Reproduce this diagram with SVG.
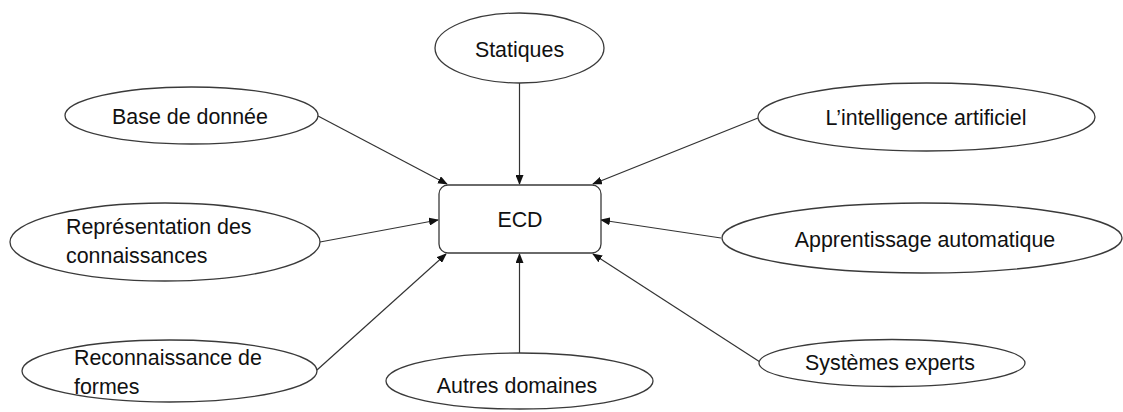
<svg xmlns="http://www.w3.org/2000/svg" width="1123" height="412" viewBox="0 0 1123 412">
<style>
.n{fill:#fff;stroke:#3a3a3a;stroke-width:1.3}
.t{font-family:"Liberation Sans",Arial,sans-serif;font-size:21.4px;fill:#111}
.c{text-anchor:middle}
.e{stroke:#333;stroke-width:1.2;fill:none;marker-end:url(#ah)}
</style>
<defs>
<marker id="ah" markerWidth="10" markerHeight="8" refX="9" refY="4" orient="auto" markerUnits="userSpaceOnUse">
<path d="M0,0 L10,4 L0,8 Z" fill="#111"/>
</marker>
</defs>
<g id="edges">
<line class="e" x1="519.5" y1="83" x2="519.5" y2="184"/>
<line class="e" x1="318" y1="116" x2="447" y2="184"/>
<line class="e" x1="758" y1="118" x2="593" y2="184"/>
<line class="e" x1="320" y1="242" x2="438" y2="220"/>
<line class="e" x1="721" y1="238" x2="601" y2="220"/>
<line class="e" x1="317" y1="370" x2="446" y2="254"/>
<line class="e" x1="519.5" y1="353" x2="519.5" y2="254"/>
<line class="e" x1="760" y1="362" x2="593" y2="254"/>
</g>
<g id="ecd">
<rect class="n" x="439" y="185" width="162" height="68" rx="9"/>
<text class="t c" x="520" y="227">ECD</text>
</g>
<g id="statiques">
<ellipse class="n" cx="519.5" cy="48" rx="84.5" ry="35"/>
<text class="t c" x="519.5" y="57">Statiques</text>
</g>
<g id="base">
<ellipse class="n" cx="191.5" cy="115.5" rx="126.5" ry="28.5"/>
<text class="t c" x="190" y="124">Base de donnée</text>
</g>
<g id="ia">
<ellipse class="n" cx="926.5" cy="117" rx="168.5" ry="34"/>
<text class="t c" x="926" y="125">L’intelligence artificiel</text>
</g>
<g id="representation">
<ellipse class="n" cx="165" cy="242" rx="155" ry="39"/>
<text class="t" x="66" y="234">Représentation des</text>
<text class="t" x="66" y="263">connaissances</text>
</g>
<g id="apprentissage">
<ellipse class="n" cx="922" cy="238" rx="200" ry="35"/>
<text class="t c" x="925" y="247">Apprentissage automatique</text>
</g>
<g id="reconnaissance">
<ellipse class="n" cx="169.5" cy="371" rx="147.5" ry="31"/>
<text class="t" x="74" y="365">Reconnaissance de</text>
<text class="t" x="74" y="394">formes</text>
</g>
<g id="autres">
<ellipse class="n" cx="519.5" cy="381" rx="133.5" ry="28"/>
<text class="t c" x="517" y="393">Autres domaines</text>
</g>
<g id="systemes">
<ellipse class="n" cx="892" cy="363" rx="133" ry="23.5"/>
<text class="t c" x="890" y="370">Systèmes experts</text>
</g>
</svg>
